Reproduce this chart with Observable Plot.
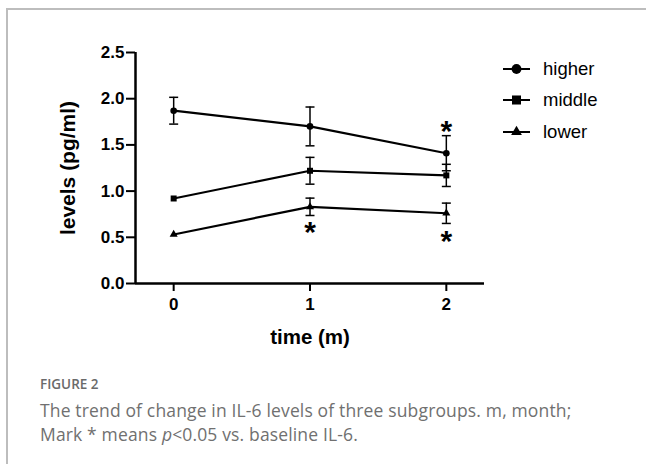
<!DOCTYPE html>
<html>
<head>
<meta charset="utf-8">
<script src="https://cdn.jsdelivr.net/npm/d3@7"></script>
<script src="https://cdn.jsdelivr.net/npm/@observablehq/plot@0.6"></script>
<style>
  html, body { margin: 0; padding: 0; background: #fff; }
  #wrap { position: relative; width: 646px; height: 464px; overflow: hidden; background: #fff; }
  #frame { position: absolute; left: 6px; top: 8px; width: 700px; height: 500px; border-top: 2px solid #bdbdbd; border-left: 2px solid #bdbdbd; }
  #chart { position: absolute; left: 0; top: 0; }
  #legend { position: absolute; left: 503px; top: 53px; font-family: "Liberation Sans", Arial, sans-serif; font-size: 18.5px; color: #000; }
  .row { display: flex; align-items: center; height: 31.5px; }
  .row svg { margin-right: 13px; }
  #fig { position: absolute; left: 40px; top: 375px; font-family: "Open Sans", sans-serif; font-weight: 600; font-size: 13.5px; color: #6a6a6a; }
  #cap { position: absolute; left: 40px; top: 398px; font-family: "Open Sans", sans-serif; font-weight: 400; font-size: 17.5px; letter-spacing: 0.15px; line-height: 24px; color: #707070; }
</style>
</head>
<body>
<div id="wrap">
  <div id="frame"></div>
  <div id="chart"></div>
  <div id="legend"></div>
  <div id="fig">FIGURE 2</div>
  <div id="cap">The trend of change in IL-6 levels of three subgroups. m, month;<br>Mark * means <i>p</i>&lt;0.05 vs. baseline IL-6.</div>
</div>
<script>
// ---- data ----
const times = [0, 1, 2];
const groups = ["higher", "middle", "lower"];
const higherMean = [1.87, 1.70, 1.41];
const higherErr  = [0.145, 0.21, 0.19];
const middleMean = [0.92, 1.22, 1.17];
const middleErr  = [0, 0.145, 0.12];
const lowerMean  = [0.53, 0.83, 0.76];
const lowerErr   = [0, 0.094, 0.11];
const symbols = ["circle", "square", "triangle"];
const starTime  = [2, 1, 2];
const starLevel = [1.69, 0.60, 0.50];
const yTicks = [0, 0.5, 1.0, 1.5, 2.0, 2.5];
const xTicks = [0, 1, 2];
const xLabel = "time (m)";
const yLabel = "levels (pg/ml)";

const means = [higherMean, middleMean, lowerMean];
const errs = [higherErr, middleErr, lowerErr];
const rows = [];
groups.forEach((g, gi) => times.forEach((t, ti) => rows.push({
  group: g, symbol: symbols[gi], time: t, mean: means[gi][ti], err: errs[gi][ti],
  lo: means[gi][ti] - errs[gi][ti], hi: means[gi][ti] + errs[gi][ti]
})));
const errRows = rows.filter(d => d.err > 0);
const stars = starTime.map((t, i) => ({time: t, level: starLevel[i]}));

const cap = { draw(ctx) { ctx.moveTo(-4.5, 0); ctx.lineTo(4.5, 0); } };
const symR = {circle: 4.9, square: 5.1, triangle: 4.0};

const chart = Plot.plot({
  width: 646, height: 360,
  marginLeft: 135, marginRight: 162, marginTop: 52, marginBottom: 77,
  style: { fontFamily: "'Liberation Sans', Arial, sans-serif", background: "transparent", color: "#000" },
  x: { domain: [-0.28, 2.28] },
  y: { domain: [0, 2.5] },
  marks: [
    Plot.ruleY([0], { stroke: "#000", strokeWidth: 2.5 }),
    Plot.ruleX([-0.28], { y1: 0, y2: 2.5, stroke: "#000", strokeWidth: 2.5 }),
    Plot.axisY({ ticks: yTicks, tickFormat: d3.format(".1f"), tickSize: 9, tickPadding: 2, strokeWidth: 2, fontSize: 17, fontWeight: "bold", label: null }),
    Plot.axisX({ ticks: xTicks, tickFormat: d3.format("d"), tickSize: 8, tickPadding: 6, strokeWidth: 2, fontSize: 17, fontWeight: "bold", label: null }),
    Plot.text([xLabel], { frameAnchor: "bottom", dy: 60, fontSize: 20.5, fontWeight: "bold" }),
    Plot.text([yLabel], { frameAnchor: "left", textAnchor: "middle", rotate: -90, dx: -67, fontSize: 21, fontWeight: "bold" }),
    Plot.ruleX(errRows, { x: "time", y1: "lo", y2: "hi", stroke: "#000", strokeWidth: 1.5 }),
    Plot.dot(errRows, { x: "time", y: "lo", symbol: () => cap, stroke: "#000", strokeWidth: 1.5 }),
    Plot.dot(errRows, { x: "time", y: "hi", symbol: () => cap, stroke: "#000", strokeWidth: 1.5 }),
    Plot.line(rows, { x: "time", y: "mean", z: "group", stroke: "#000", strokeWidth: 2.2 }),
    Plot.dot(rows, { x: "time", y: "mean", symbol: "symbol", r: d => symR[d.symbol], fill: "#000", stroke: "none" }),
    Plot.text(stars, { x: "time", y: "level", text: () => "*", fontSize: 30, fontWeight: "bold", dy: 4 })
  ]
});
document.getElementById("chart").appendChild(chart);

// legend
const leg = document.getElementById("legend");
groups.forEach((g, i) => {
  const row = document.createElement("div");
  row.className = "row";
  const s = d3.create("svg").attr("width", 27).attr("height", 14);
  s.append("line").attr("x1", 0).attr("x2", 27).attr("y1", 7).attr("y2", 7).attr("stroke", "#000").attr("stroke-width", 2);
  const typ = {circle: d3.symbolCircle, square: d3.symbolSquare, triangle: d3.symbolTriangle}[symbols[i]];
  const r = symR[symbols[i]];
  s.append("path").attr("transform", "translate(13.5,7)").attr("d", d3.symbol(typ, Math.PI * r * r)()).attr("fill", "#000");
  row.appendChild(s.node());
  const span = document.createElement("span");
  span.textContent = g;
  row.appendChild(span);
  leg.appendChild(row);
});
</script>
</body>
</html>
